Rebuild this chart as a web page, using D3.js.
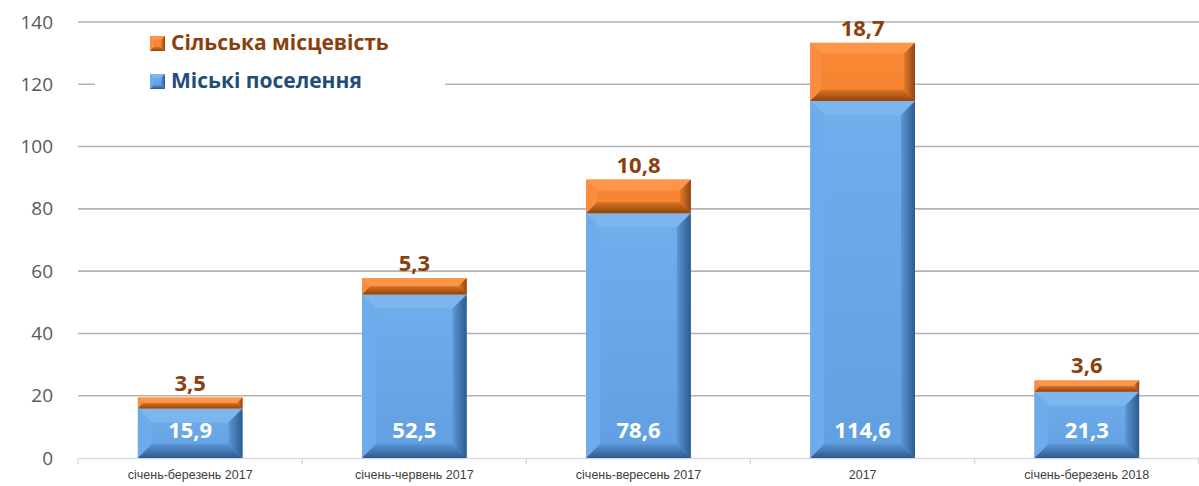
<!DOCTYPE html>
<html>
<head>
<meta charset="utf-8">
<script src="https://cdn.jsdelivr.net/npm/d3@7"></script>
<style>
  body { margin: 0; background: #fff; }
  svg { display: block; font-family: "Open Sans", "Noto Sans", sans-serif; }
</style>
</head>
<body>
<div id="chart"></div>
<script>
// chart data
const categories = ["січень-березень 2017", "січень-червень 2017", "січень-вересень 2017", "2017", "січень-березень 2018"];
const urban = [15.9, 52.5, 78.6, 114.6, 21.3];
const rural = [3.5, 5.3, 10.8, 18.7, 3.6];
const yTicks = [0, 20, 40, 60, 80, 100, 120, 140];
const seriesNames = ["Сільська місцевість", "Міські поселення"];

const W = 1199, H = 486;
const margin = { top: 22, right: 0, bottom: 28, left: 78 };
const width = W - margin.left - margin.right,
    height = H - margin.top - margin.bottom;

const svg = d3.select("#chart").append("svg")
    .attr("width", W).attr("height", H);

const defs = svg.append("defs");
function grad(id, c1, c2, horiz) {
    const g = defs.append("linearGradient").attr("id", id)
        .attr("x1", 0).attr("y1", 0).attr("x2", horiz ? 1 : 0).attr("y2", horiz ? 0 : 1);
    g.append("stop").attr("offset", "0%").attr("stop-color", c1);
    g.append("stop").attr("offset", "100%").attr("stop-color", c2);
}
grad("blueFace", "#72adec", "#609fe0");
grad("blueRight", "#5b97d8", "#2f5a8c", true);
grad("blueBottom", "#5a96d6", "#2f5a8c");
grad("orangeFace", "#fb8a38", "#f3822f");
grad("orangeRight", "#e57a2c", "#8e4512", true);
grad("orangeBottom", "#d9711f", "#8e4512");

const pal = {
    blue: { face: "url(#blueFace)", top: "#7db6ef", left: "#6dabea", right: "url(#blueRight)", bottom: "url(#blueBottom)" },
    orange: { face: "url(#orangeFace)", top: "#fd9648", left: "#f98c3e", right: "url(#orangeRight)", bottom: "url(#orangeBottom)" }
};

const x = d3.scaleBand().domain(categories).range([0, width]).paddingInner(0.533).paddingOuter(0.267);
const y = d3.scaleLinear().domain([0, 140]).range([height, 0]);

const g = svg.append("g").attr("transform", `translate(${margin.left},${margin.top})`);

// gridlines
g.append("g").selectAll("line").data(yTicks.filter(d => d > 0)).enter().append("line")
    .attr("x1", 0).attr("x2", width)
    .attr("y1", d => y(d)).attr("y2", d => y(d))
    .attr("stroke", "#b3b3b3").attr("stroke-width", 1.6);

// y axis labels
g.append("g").call(d3.axisLeft(y).tickValues(yTicks).tickSize(0).tickPadding(25))
    .call(a => a.select(".domain").remove())
    .selectAll("text")
    .attr("font-size", "19px").attr("fill", "#595959")
    .attr("font-family", "'Open Sans', sans-serif");

// x axis
const xAxis = g.append("g").attr("transform", `translate(0,${height})`)
    .call(d3.axisBottom(x).tickSize(0).tickPadding(12));
xAxis.select(".domain").attr("stroke", "#d6dce5").attr("stroke-width", 1.5);
xAxis.selectAll("text").attr("font-size", "12.5px").attr("fill", "#404040");
// category boundary ticks
const step = x.step();
g.append("g").selectAll("line").data(d3.range(categories.length + 1)).enter().append("line")
    .attr("x1", i => i * step).attr("x2", i => i * step)
    .attr("y1", height).attr("y2", height + 6)
    .attr("stroke", "#d6dce5").attr("stroke-width", 1.5);

// bevelled rectangle
function bevelRect(sel, x0, y0, w, h, p, bmax) {
    const b = Math.min(bmax, h / 2, w / 2);
    const x1 = x0 + w, y1 = y0 + h;
    const pts = a => a.map(q => q.join(",")).join(" ");
    sel.append("rect").attr("x", x0).attr("y", y0).attr("width", w).attr("height", h).attr("fill", p.face);
    sel.append("polygon").attr("points", pts([[x0, y0], [x1, y0], [x1 - b, y0 + b], [x0 + b, y0 + b]])).attr("fill", p.top);
    sel.append("polygon").attr("points", pts([[x0, y0], [x0 + b, y0 + b], [x0 + b, y1 - b], [x0, y1]])).attr("fill", p.left);
    sel.append("polygon").attr("points", pts([[x1, y0], [x1, y1], [x1 - b, y1 - b], [x1 - b, y0 + b]])).attr("fill", p.right);
    sel.append("polygon").attr("points", pts([[x0, y1], [x1, y1], [x1 - b, y1 - b], [x0 + b, y1 - b]])).attr("fill", p.bottom);
}

const bars = g.append("g");
categories.forEach((c, i) => {
    const bx = x(c), bw = x.bandwidth();
    const yu = y(urban[i]), hu = height - yu;
    const yr = y(urban[i] + rural[i]), hr = yu - yr;
    const gb = bars.append("g");
    bevelRect(gb, bx, yu, bw, hu, pal.blue, 14);
    bevelRect(gb, bx, yr, bw, hr, pal.orange, 11);

    bars.append("text")
        .attr("x", bx + bw / 2).attr("y", height - 28)
        .attr("dy", "0.35em").attr("text-anchor", "middle")
        .attr("font-size", "22px").attr("font-weight", "bold").attr("fill", "#fff")
        .text(String(urban[i]).replace(".", ","));
    bars.append("text")
        .attr("x", bx + bw / 2).attr("y", yr - 7)
        .attr("text-anchor", "middle")
        .attr("font-size", "22px").attr("font-weight", "bold").attr("fill", "#8a3f0c")
        .text(String(rural[i]).replace(".", ","));
});

// legend
const legend = svg.append("g").attr("transform", "translate(95,24)");
legend.append("rect").attr("x", 0).attr("y", 0).attr("width", 350).attr("height", 86).attr("fill", "#fff");
const legendItems = [
    { name: seriesNames[0], p: pal.orange, color: "#8a3f0c", y: 19 },
    { name: seriesNames[1], p: pal.blue, color: "#1f4e79", y: 57 }
];
legendItems.forEach(it => {
    const lg = legend.append("g");
    bevelRect(lg, 55, it.y - 7, 15, 15, it.p, 4);
    lg.append("text").attr("x", 76).attr("y", it.y).attr("dy", "0.35em")
        .attr("font-size", "21px").attr("font-weight", "bold").attr("fill", it.color)
        .text(it.name);
});
</script>
</body>
</html>
